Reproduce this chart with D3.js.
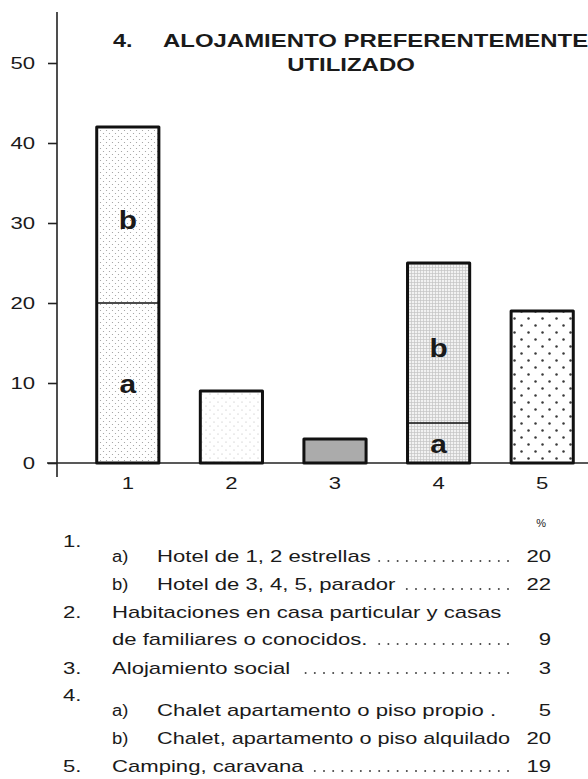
<!DOCTYPE html>
<html>
<head>
<meta charset="utf-8">
<script src="https://cdn.jsdelivr.net/npm/d3@7"></script>
<style>
  body { margin: 0; background: #fff; }
  text { font-family: 'Liberation Sans', Arial, sans-serif; fill: #1a1a1a; }
</style>
</head>
<body>
<div id="chart"></div>
<script>
// data
const categories = ['1', '2', '3', '4', '5']
const seriesA = [20, 9, 3, 5, 19]   // lower part (a) or whole bar
const seriesB = [22, 0, 0, 20, 0]   // upper part (b)
const yTicks = [0, 10, 20, 30, 40, 50]
const titleNumber = '4.'
const titleLines = ['ALOJAMIENTO PREFERENTEMENTE', 'UTILIZADO']
const segmentNames = ['a', 'b']

const legendNumbers = ['1.', '', '2.', '', '3.', '4.', '', '5.']
const legendSubs = ['a)', 'b)', '', '', '', 'a)', 'b)', '']
const legendTexts = [
  'Hotel de 1, 2 estrellas',
  'Hotel de 3, 4, 5, parador',
  'Habitaciones en casa particular y casas',
  'de familiares o conocidos.',
  'Alojamiento social',
  'Chalet apartamento o piso propio .',
  'Chalet, apartamento o piso alquilado',
  'Camping, caravana'
]
// which bar / segment each legend line refers to (null = no value on that line)
const legendRefs = [[0, 'a'], [0, 'b'], null, [1, 'a'], [2, 'a'], [3, 'a'], [3, 'b'], [4, 'a']]
const legendLeaders = [true, true, false, true, true, false, false, true]

const width = 588
const height = 779
const margin = { top: 63, bottom: 316, left: 57 }
const sx = 1.3 // the scan is wide: stretch type horizontally

function stretch(sel, k) {
  sel.each(function() {
    const w = this.getComputedTextLength()
    this.setAttribute('textLength', w * k)
    this.setAttribute('lengthAdjust', 'spacingAndGlyphs')
  })
}

const svg = d3
  .select('#chart')
  .append('svg')
  .attr('width', width)
  .attr('height', height)

// patterns
const defs = svg.append('defs')
function dotPattern(id, size, r, fill) {
  const p = defs.append('pattern')
    .attr('id', id).attr('patternUnits', 'userSpaceOnUse')
    .attr('width', size).attr('height', size)
  p.append('rect').attr('width', size).attr('height', size).attr('fill', '#fff')
  p.append('circle').attr('cx', size / 4).attr('cy', size / 4).attr('r', r).attr('fill', fill)
  p.append('circle').attr('cx', size * 3 / 4).attr('cy', size * 3 / 4).attr('r', r).attr('fill', fill)
}
dotPattern('p0', 6, 0.6, '#999')
dotPattern('p1', 8, 0.6, '#b5b5b5')
dotPattern('p4', 14, 1.25, '#3a3a3a')
const grid = defs.append('pattern')
  .attr('id', 'p3').attr('patternUnits', 'userSpaceOnUse')
  .attr('width', 3).attr('height', 3)
grid.append('rect').attr('width', 3).attr('height', 3).attr('fill', '#f2f2f2')
grid.append('path').attr('d', 'M0,0.5H3M0.5,0V3').attr('stroke', '#c4c4c4').attr('stroke-width', 0.7)
const fills = ['url(#p0)', 'url(#p1)', '#ababab', 'url(#p3)', 'url(#p4)']

const x = d3.scaleBand()
  .domain(categories)
  .range([76, 594])
  .paddingInner(0.4)
  .paddingOuter(0.2)

const y = d3.scaleLinear()
  .domain([0, 50])
  .range([height - margin.bottom, margin.top])

const data = categories.map((c, i) => ({ c, a: seriesA[i], b: seriesB[i], fill: fills[i] }))

// axis lines
svg.append('line')
  .attr('x1', margin.left).attr('x2', margin.left)
  .attr('y1', 12).attr('y2', y(0) + 14)
  .attr('stroke', '#222').attr('stroke-width', 1.6)
svg.append('line')
  .attr('x1', margin.left - 10).attr('x2', width)
  .attr('y1', y(0)).attr('y2', y(0))
  .attr('stroke', '#222').attr('stroke-width', 1.6)

const yAxis = svg.append('g')
  .attr('transform', `translate(${margin.left},0)`)
  .call(d3.axisLeft(y).tickValues(yTicks).tickSize(9).tickPadding(13))
yAxis.select('.domain').remove()
yAxis.selectAll('line').attr('stroke', '#222').attr('stroke-width', 1.6)
yAxis.selectAll('text')
  .attr('font-size', 17).attr('font-family', 'Liberation Sans').attr('fill', '#1a1a1a')
  .call(stretch, sx)

const xAxis = svg.append('g')
  .attr('transform', `translate(0,${y(0)})`)
  .call(d3.axisBottom(x).tickSize(0).tickPadding(14))
xAxis.select('.domain').remove()
xAxis.selectAll('text')
  .attr('font-size', 17).attr('font-family', 'Liberation Sans').attr('fill', '#1a1a1a')
  .call(stretch, sx)

// bars
const bars = svg.append('g').selectAll('g').data(data).join('g')
bars.append('rect')
  .attr('x', d => x(d.c)).attr('width', x.bandwidth())
  .attr('y', d => y(d.a + d.b)).attr('height', d => y(0) - y(d.a + d.b))
  .attr('fill', d => d.fill)
  .attr('stroke', '#111').attr('stroke-width', 3).attr('stroke-linejoin', 'round')
bars.filter(d => d.b > 0).append('line')
  .attr('x1', d => x(d.c)).attr('x2', d => x(d.c) + x.bandwidth())
  .attr('y1', d => y(d.a)).attr('y2', d => y(d.a))
  .attr('stroke', '#111').attr('stroke-width', 1.6)

// a / b labels inside split bars
bars.filter(d => d.b > 0).selectAll('text')
  .data(d => [
    { name: segmentNames[0], cx: x(d.c) + x.bandwidth() / 2, mid: (y(0) + y(d.a)) / 2 },
    { name: segmentNames[1], cx: x(d.c) + x.bandwidth() / 2, mid: (y(d.a) + y(d.a + d.b)) / 2 }
  ])
  .join('text')
  .attr('x', d => d.cx).attr('y', d => d.mid)
  .attr('dy', d => d.name === 'b' ? 14 : 10)
  .attr('text-anchor', 'middle')
  .attr('font-size', 26).attr('font-weight', 'bold')
  .text(d => d.name)
  .call(stretch, 1.15)

// title
const title = svg.append('g').attr('font-weight', 'bold').attr('font-size', 18)
title.append('text').attr('x', 113).attr('y', 47).text(titleNumber).call(stretch, sx)
title.append('text').attr('x', 163).attr('y', 47).text(titleLines[0]).call(stretch, 1.33)
title.append('text').attr('x', 351).attr('y', 71).attr('text-anchor', 'middle')
  .text(titleLines[1]).call(stretch, 1.33)

// legend
const leg = svg.append('g').attr('font-size', 17)
const rowY = [562, 590, 618, 645, 674, 716, 744, 772]
const valueX = 551
const leaderEnd = 508

leg.append('text').attr('x', 546).attr('y', 527).attr('text-anchor', 'end')
  .attr('font-size', 11).attr('fill', '#555').text('%')

legendTexts.forEach((t, i) => {
  const yy = rowY[i]
  const sub = legendSubs[i]
  if (legendNumbers[i]) {
    leg.append('text').attr('x', 63).attr('y', sub ? yy - 15 : yy)
      .text(legendNumbers[i]).call(stretch, sx)
  }
  if (sub) {
    leg.append('text').attr('x', 112).attr('y', yy).attr('font-size', 16)
      .text(sub).call(stretch, 1.15)
  }
  const tx = sub ? 157 : 112
  const label = leg.append('text').attr('x', tx).attr('y', yy).text(t)
  label.call(stretch, sx)
  // the long line is set tight so it reaches the value column
  const w = label.node().getComputedTextLength()
  if (tx + w > leaderEnd + 4) {
    label.attr('textLength', leaderEnd + 2 - tx)
  }
  const ref = legendRefs[i]
  if (ref) {
    const v = ref[1] === 'a' ? seriesA[ref[0]] : seriesB[ref[0]]
    leg.append('text').attr('x', valueX).attr('y', yy).attr('text-anchor', 'end')
      .text(v).call(stretch, sx)
  }
  if (legendLeaders[i]) {
    const end = tx + Math.min(w, leaderEnd - tx)
    const dots = d3.range(leaderEnd, end + 8, -9.2)
    leg.append('g').selectAll('circle').data(dots).join('circle')
      .attr('cx', d => d).attr('cy', yy - 1)
      .attr('r', 1).attr('fill', '#444')
  }
})
</script>
</body>
</html>
